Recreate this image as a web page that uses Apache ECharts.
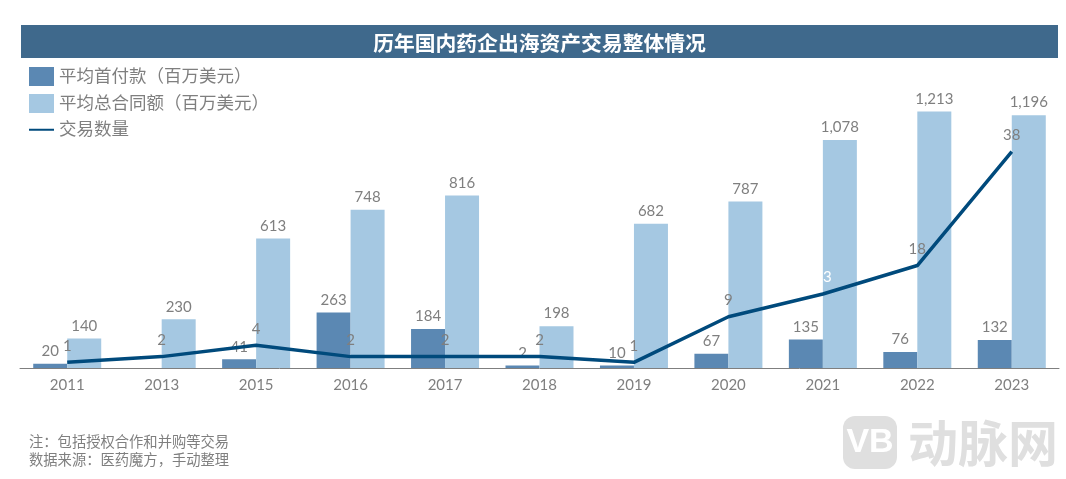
<!DOCTYPE html>
<html>
<head>
<meta charset="utf-8">
<style>
  html, body { margin: 0; padding: 0; background: #fff; }
  #chart { width: 1066px; height: 479px; }
</style>
<script src="https://cdn.jsdelivr.net/npm/echarts@6/dist/echarts.min.js"></script>
</head>
<body>
<div id="chart"></div>
<script>
var years = ['2011', '2013', '2015', '2016', '2017', '2018', '2019', '2020', '2021', '2022', '2023'];
var upfront = [20, null, 41, 263, 184, 2, 10, 67, 135, 76, 132];
var contract = [140, 230, 613, 748, 816, 198, 682, 787, 1078, 1213, 1196];
var deals = [1, 2, 4, 2, 2, 2, 1, 9, 13, 18, 38];

var font = 'Lato, "Noto Sans CJK SC", sans-serif';
var grey = '#7f7f7f';

function fmt(p) {
  return p.value.toLocaleString('en-US');
}

var chart = echarts.init(document.getElementById('chart'));
chart.setOption({
  animation: false,
  textStyle: { fontFamily: font },
  grid: { left: 20, right: 7, top: 72, height: 296 },
  legend: {
    orient: 'vertical',
    left: 28,
    top: 67,
    padding: 0,
    itemWidth: 25,
    itemHeight: 19,
    itemGap: 8,
    textStyle: { color: grey, fontSize: 17.5, fontFamily: font },
    data: [
      { name: '平均首付款（百万美元）', icon: 'rect' },
      { name: '平均总合同额（百万美元）', icon: 'rect' },
      { name: '交易数量', itemStyle: { opacity: 0 } }
    ]
  },
  xAxis: {
    type: 'category',
    data: years,
    axisTick: { show: false },
    axisLine: { lineStyle: { color: '#7f7f7f', width: 1 } },
    axisLabel: { color: grey, fontSize: 15, margin: 10 }
  },
  yAxis: [
    { type: 'value', min: 0, max: 1400, show: false },
    { type: 'value', min: 0, max: 52, show: false }
  ],
  series: [
    {
      name: '平均首付款（百万美元）',
      type: 'bar',
      data: upfront,
      barWidth: 34,
      barGap: 0,
      barMinHeight: 2.5,
      itemStyle: { color: '#5b88b3' },
      label: { show: true, position: 'top', distance: 5, color: grey, fontSize: 15, formatter: fmt }
    },
    {
      name: '平均总合同额（百万美元）',
      type: 'bar',
      data: contract,
      barWidth: 34,
      barGap: 0,
      itemStyle: { color: '#a5c8e2' },
      label: { show: true, position: 'top', distance: 5, color: grey, fontSize: 15, formatter: fmt }
    },
    {
      name: '交易数量',
      type: 'line',
      yAxisIndex: 1,
      data: deals,
      symbol: 'circle',
      symbolSize: 0,
      showAllSymbol: true,
      z: 5,
      lineStyle: { color: '#004a7c', width: 3.5 },
      itemStyle: { color: '#004a7c' },
      label: {
        show: true,
        position: 'top',
        distance: 9,
        fontSize: 15,
        // 2021的标签在原图里是白色且只露出个位
        formatter: function (p) { return p.dataIndex === 8 ? '{w|3}' : String(p.value); },
        color: grey,
        rich: { w: { color: '#ffffff', fontSize: 15, padding: [0, 0, 0, 9] } }
      }
    }
  ],
  graphic: [
    { type: 'rect', left: 21, top: 25, shape: { width: 1037, height: 33 }, style: { fill: '#3f698c' } },
    { type: 'text', x: 539.5, y: 43, style: { text: '历年国内药企出海资产交易整体情况', fill: '#fff', font: 'bold 20.8px "Noto Sans CJK SC"', align: 'center', verticalAlign: 'middle' } },
    { type: 'text', x: 29, y: 442, style: { text: '注：包括授权合作和并购等交易', fill: grey, font: '14.3px "Noto Sans CJK SC"', verticalAlign: 'middle' } },
    { type: 'text', x: 29, y: 460, style: { text: '数据来源：医药魔方，手动整理', fill: grey, font: '14.3px "Noto Sans CJK SC"', verticalAlign: 'middle' } },
    { type: 'rect', left: 843, top: 416, shape: { width: 54, height: 53, r: 12 }, style: { fill: '#dfdfdf' } },
    { type: 'text', x: 870, y: 443, style: { text: 'VB', fill: '#fff', font: 'bold 34px "Liberation Sans Narrow", "Liberation Sans"', align: 'center', verticalAlign: 'middle' } },
    { type: 'text', x: 908, y: 443, style: { text: '动脉网', fill: '#dfdfdf', font: 'bold 50px "Noto Sans CJK SC"', verticalAlign: 'middle' } }
  ]
});
</script>
</body>
</html>
